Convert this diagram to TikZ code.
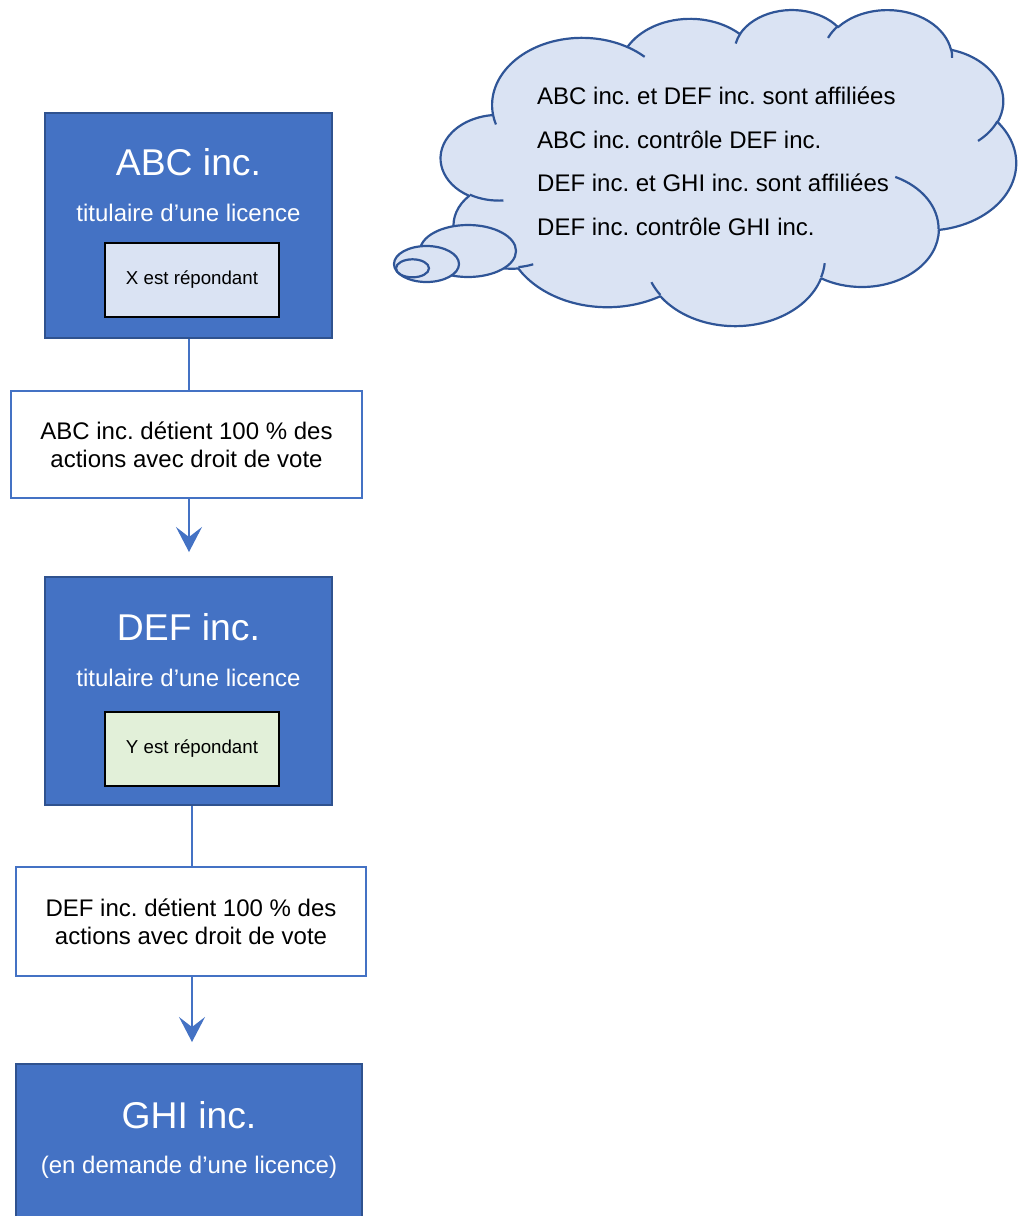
\documentclass[tikz,border=0pt]{standalone}
\usepackage{fontspec}
\setmainfont{Liberation Sans}[Ligatures=NoCommon]
\usetikzlibrary{arrows.meta}
\frenchspacing

\definecolor{boxblue}{HTML}{4472C4}
\definecolor{boxedge}{HTML}{2F528F}
\definecolor{cloudfill}{HTML}{DAE3F3}
\definecolor{cloudedge}{HTML}{2F5597}
\definecolor{paleblue}{HTML}{DAE3F3}
\definecolor{palegreen}{HTML}{E2F0D9}

% Elliptic arc given by radii, start angle and sweep, where the angles are
% the visual (polar) angles on the ellipse, converted to parametric ones.
\newcommand\cldarc[4]{arc[x radius=#1, y radius=#2,
  start angle={atan2((#1)*sin(#3),(#2)*cos(#3))},
  delta angle={mod(atan2((#1)*sin((#3)+(#4)),(#2)*cos((#3)+(#4)))-atan2((#1)*sin(#3),(#2)*cos(#3))+720,360)}]}

\tikzset{
  company/.style={draw=boxedge, line width=2pt, fill=boxblue, inner sep=0pt},
  coname/.style={text=white, inner sep=0pt, font=\fontsize{37.3}{44}\selectfont},
  corole/.style={text=white, inner sep=0pt, font=\fontsize{24}{28}\selectfont},
  respbox/.style={draw=black, line width=2pt, minimum width=174pt, minimum height=74pt,
    inner sep=0pt, font=\fontsize{18.7}{22}\selectfont},
  holding/.style={draw=boxblue, line width=1.5pt, fill=white, align=center, inner sep=0pt,
    font=\fontsize{24}{28}\selectfont},
  link/.style={draw=boxblue, line width=1.3pt},
  arrowlink/.style={link, -{Stealth[length=25pt,width=26pt,inset=10pt]}, fill=boxblue},
  cloudline/.style={draw=cloudedge, line width=2.2pt, line join=round},
  cloudtext/.style={anchor=west, inner sep=0pt, font=\fontsize{24}{28}\selectfont},
}

\begin{document}
\begin{tikzpicture}[x=1pt, y=-1pt]
\useasboundingbox (0,0) rectangle (1021,1216);
\clip (0,0) rectangle (1021,1216);

% ---- thought cloud ----
\begin{scope}[shift={(441,9)}, x=1.33102pt, y=-0.73148pt]
  \path[cloudline, fill=cloudfill]
    (39.00,143.70)
    \cldarc{67.53}{91.90}{-190.4875}{123.7805}
    \cldarc{53.33}{72.67}{-144.1024}{89.9452}
    \cldarc{43.65}{59.45}{-145.8079}{99.7230}
    \cldarc{48.57}{65.95}{-130.9861}{117.2417}
    \cldarc{53.33}{72.73}{-78.7089}{109.0269}
    \cldarc{67.75}{92.20}{-46.2673}{130.2690}
    \cldarc{57.85}{78.67}{0.6250}{114.0333}
    \cldarc{67.52}{92.15}{22.4516}{115.1726}
    \cldarc{77.20}{105.43}{66.2426}{75.7110}
    \cldarc{43.60}{59.18}{-274.9421}{146.7356}
    \cldarc{43.45}{59.45}{-246.8285}{152.5189}
    -- cycle;
  % inner creases between the puffs
  \path[cloudline]
    (46.93,261.77) \cldarc{43.45}{59.45}{86.7420}{26.4295}
    (69.28,348.99) \cldarc{43.60}{59.18}{73.6105}{11.4475}
    (164.78,390.90) \cldarc{67.52}{92.15}{137.6242}{14.0811}
    (288.27,347.51) \cldarc{67.52}{92.15}{6.4533}{15.9984}
    (341.29,229.54) \cldarc{57.85}{78.67}{-70.2924}{70.9174}
    (417.98,153.54) \cldarc{53.33}{72.73}{30.3180}{27.7515}
    (383.24,54.26) \cldarc{48.57}{65.95}{-13.7443}{14.8589}
    (290.78,39.52) \cldarc{48.57}{65.95}{-149.1815}{18.1954}
    (221.41,47.20) \cldarc{43.65}{59.45}{-163.4943}{17.6864}
    (140.00,51.92) \cldarc{67.53}{91.90}{-66.7070}{12.3194}
    (41.27,157.89) \cldarc{67.53}{91.90}{157.6544}{11.8582};
\end{scope}
% trailing bubbles
\path[cloudline, fill=cloudfill] (468,251) ellipse[x radius=48, y radius=26];
\path[cloudline, fill=cloudfill] (426.5,264) ellipse[x radius=32.5, y radius=18];
\path[cloudline, fill=cloudfill] (412.5,268.3) ellipse[x radius=16.5, y radius=9];

\node[cloudtext] (fact1) at (537,96) {ABC inc. et DEF inc. sont affiliées};
\node[cloudtext] (fact2) at (537,140) {ABC inc. contrôle DEF inc.};
\node[cloudtext] (fact3) at (537,183) {DEF inc. et GHI inc. sont affiliées};
\node[cloudtext] (fact4) at (537,227) {DEF inc. contrôle GHI inc.};

% ---- ABC inc. ----
\node[company, minimum width=287pt, minimum height=225pt] (abc) at (188.5,225.5) {};
\node[coname] (abcname) at (188.5,162) {ABC inc.};
\node[corole] (abcrole) at (188.5,213) {titulaire d’une licence};
\node[respbox, fill=paleblue] (abcresp) at (192,280) {X est répondant};

\node[holding, minimum width=351pt, minimum height=107pt] (own1) at (186.5,444.5)
  {ABC inc. détient 100 \% des\\actions avec droit de vote};

% ---- DEF inc. ----
\node[company, minimum width=287pt, minimum height=228pt] (def) at (188.5,691) {};
\node[coname] (defname) at (188.5,627) {DEF inc.};
\node[corole] (defrole) at (188.5,678) {titulaire d’une licence};
\node[respbox, fill=palegreen] (defresp) at (192,748.5) {Y est répondant};

\node[holding, minimum width=350pt, minimum height=109pt] (own2) at (191,921.5)
  {DEF inc. détient 100 \% des\\actions avec droit de vote};

% ---- GHI inc. ----
\node[company, minimum width=346pt, minimum height=166pt] (ghi) at (189,1147) {};
\node[coname] (ghiname) at (189,1115) {GHI inc.};
\node[corole] (ghirole) at (189,1167) {(en demande d’une licence)};

% ---- connectors ----
\coordinate (tip1) at (189,552);
\coordinate (tip2) at (192,1042);
\draw[link] (abc.south -| tip1) -- (own1.north -| tip1);
\draw[arrowlink] (own1.south -| tip1) -- (tip1);
\draw[link] (def.south -| tip2) -- (own2.north -| tip2);
\draw[arrowlink] (own2.south -| tip2) -- (tip2);
\end{tikzpicture}
\end{document}
